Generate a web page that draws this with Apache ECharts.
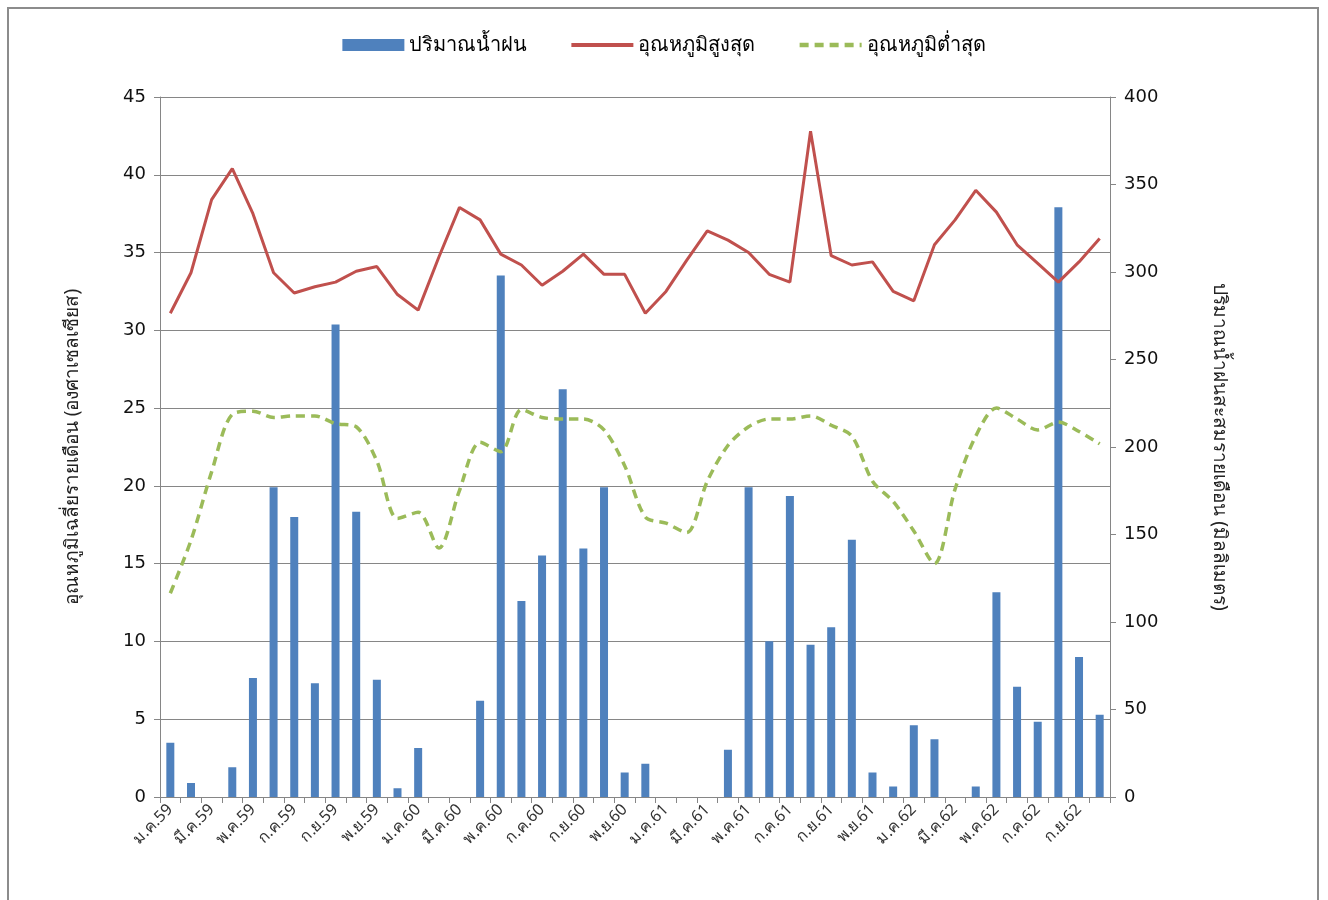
<!DOCTYPE html>
<html>
<head>
<meta charset="utf-8">
<script src="https://cdn.jsdelivr.net/npm/echarts@6/dist/echarts.min.js"></script>
<style>
html, body { margin: 0; padding: 0; background: #fff; }
#main { width: 1328px; height: 900px; }
</style>
</head>
<body>
<div id="main"></div>
<script>
/*เดือน*/
var months = ['ม.ค.', 'ก.พ.', 'มี.ค.', 'เม.ย.', 'พ.ค.', 'มิ.ย.', 'ก.ค.', 'ส.ค.', 'ก.ย.', 'ต.ค.', 'พ.ย.', 'ธ.ค.'];
var years = ['59', '60', '61', '62'];
var month_count = 46;

/*ปริมาณน้ำฝน (มม.)*/
var rain = [31, 8, 0, 17, 68, 177, 160, 65, 270, 163, 67, 5,
	28, 0, 0, 55, 298, 112, 138, 233, 142, 177, 14, 19,
	0, 0, 0, 27, 177, 89, 172, 87, 97, 147, 14, 6,
	41, 33, 0, 6, 117, 63, 43, 337, 80, 47];

/*อุณหภูมิสูงสุด*/
var temp_max = [31.1, 33.7, 38.4, 40.4, 37.5, 33.7, 32.4, 32.8, 33.1, 33.8, 34.1, 32.3,
	31.3, 34.7, 37.9, 37.1, 34.9, 34.2, 32.9, 33.8, 34.9, 33.6, 33.6, 31.1,
	32.5, 34.5, 36.4, 35.8, 35.0, 33.6, 33.1, 42.8, 34.8, 34.2, 34.4, 32.5,
	31.9, 35.5, 37.1, 39.0, 37.6, 35.5, 34.3, 33.1, 34.4, 35.9];

/*อุณหภูมิต่ำสุด*/
var temp_min = [13.1, 16.5, 20.9, 24.6, 24.8, 24.4, 24.5, 24.5, 24.0, 23.8, 21.6, 17.9,
	18.3, 16.0, 19.7, 22.8, 22.2, 24.9, 24.4, 24.3, 24.3, 23.6, 21.3, 18.0,
	17.6, 17.0, 20.3, 22.6, 23.8, 24.3, 24.3, 24.5, 23.9, 23.2, 20.3, 19.0,
	17.1, 15.0, 19.8, 23.2, 25.0, 24.3, 23.6, 24.1, 23.5, 22.7];

var categories = [];
for (var i = 0; i < month_count; i++) {
	categories.push(months[i % 12] + years[Math.floor(i / 12)]);
}

var thai_font = 'Tahoma, "Noto Sans", "DejaVu Sans", sans-serif';
var axis_color = '#868686';

var chart = echarts.init(document.getElementById('main'));
chart.setOption({
	animation: false,
	backgroundColor: '#fff',
	graphic: [{
		type: 'rect',
		shape: { x: 8, y: 8, width: 1310, height: 920 },
		style: { fill: 'none', stroke: '#8c8c8c', lineWidth: 2 },
		silent: true
	}],
	legend: {
		top: 30,
		left: 'center',
		itemGap: 42,
		itemWidth: 62,
		itemHeight: 12,
		textStyle: { fontFamily: thai_font, fontSize: 20, color: '#000' },
		data: [
			{ name: 'ปริมาณน้ำฝน', icon: 'rect' },
			{ name: 'อุณหภูมิสูงสุด', itemStyle: { opacity: 0 }, lineStyle: { width: 4 } },
			{ name: 'อุณหภูมิต่ำสุด', itemStyle: { opacity: 0 }, lineStyle: { width: 4.5 } }
		]
	},
	grid: { left: 160, right: 218, top: 97, bottom: 103 },
	xAxis: {
		type: 'category',
		data: categories,
		boundaryGap: true,
		axisLine: { lineStyle: { color: axis_color } },
		axisTick: { show: true, interval: 0, length: 6, lineStyle: { color: axis_color } },
		axisLabel: {
			interval: 1,
			rotate: 45,
			fontFamily: thai_font,
			fontSize: 16,
			color: '#333',
			margin: 10
		}
	},
	yAxis: [{
		type: 'value',
		min: 0,
		max: 45,
		interval: 5,
		name: 'อุณหภูมิเฉลี่ยรายเดือน (องศาเซลเซียส)',
		nameLocation: 'middle',
		nameGap: 78,
		nameTextStyle: { fontFamily: thai_font, fontSize: 19, color: '#222' },
		axisLine: { show: true, lineStyle: { color: axis_color } },
		axisTick: { show: true, length: 6, lineStyle: { color: axis_color } },
		axisLabel: { fontFamily: '"DejaVu Sans", sans-serif', fontSize: 18, color: '#111', margin: 14 },
		splitLine: { lineStyle: { color: axis_color, width: 1 } }
	}, {
		type: 'value',
		min: 0,
		max: 400,
		interval: 50,
		name: 'ปริมาณน้ำฝนสะสมรายเดือน (มิลลิเมตร)',
		nameLocation: 'middle',
		nameGap: 100,
		nameRotate: -90,
		nameTextStyle: { fontFamily: thai_font, fontSize: 19, color: '#222' },
		axisLine: { show: true, lineStyle: { color: axis_color } },
		axisTick: { show: true, length: 6, lineStyle: { color: axis_color } },
		axisLabel: { fontFamily: '"DejaVu Sans", sans-serif', fontSize: 18, color: '#111', margin: 14 },
		splitLine: { show: false }
	}],
	series: [{
		name: 'ปริมาณน้ำฝน',
		type: 'bar',
		yAxisIndex: 1,
		barWidth: 8,
		itemStyle: { color: '#4F81BD' },
		data: rain
	}, {
		name: 'อุณหภูมิสูงสุด',
		type: 'line',
		yAxisIndex: 0,
		symbol: 'none',
		lineStyle: { color: '#C0504D', width: 3 },
		itemStyle: { color: '#C0504D' },
		data: temp_max
	}, {
		name: 'อุณหภูมิต่ำสุด',
		type: 'line',
		yAxisIndex: 0,
		symbol: 'none',
		smooth: 0.3,
		lineStyle: { color: '#9BBB59', width: 3.5, type: [9, 6] },
		itemStyle: { color: '#9BBB59' },
		data: temp_min
	}]
});
</script>
</body>
</html>
